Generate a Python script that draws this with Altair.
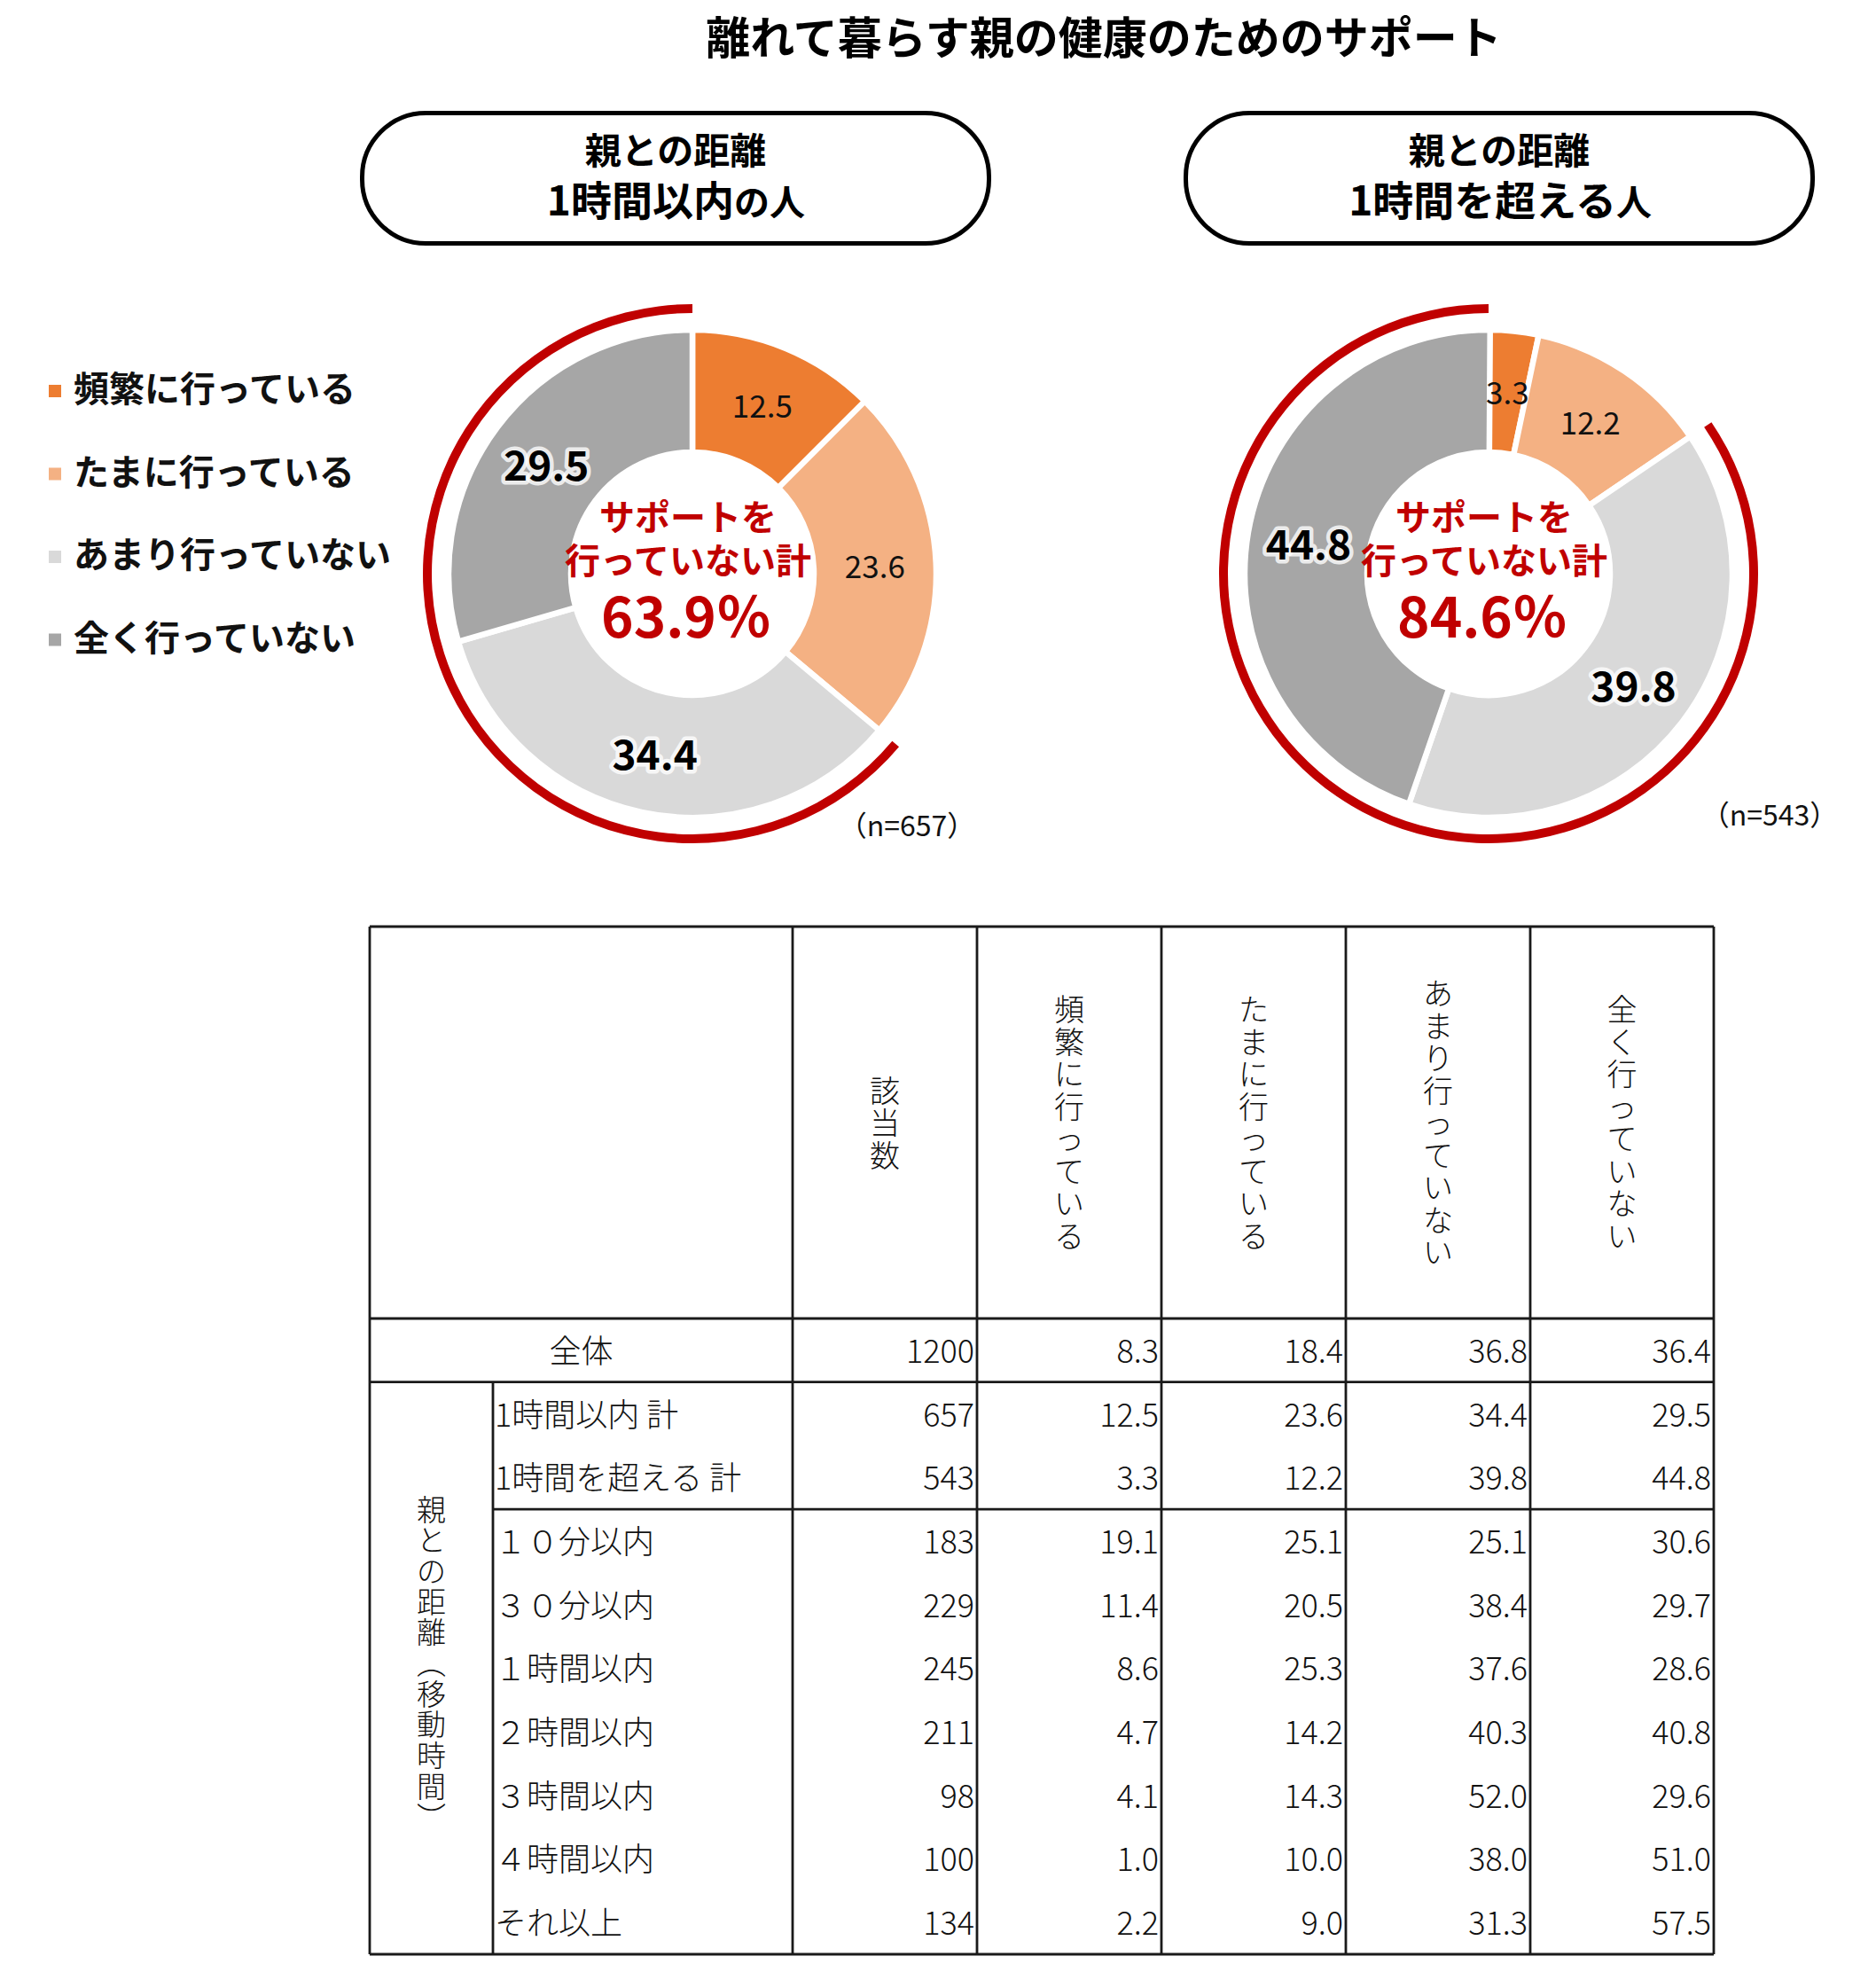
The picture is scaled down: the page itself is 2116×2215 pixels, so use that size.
import altair as alt
import pandas as pd

# ---------------- data ----------------
TITLE = "離れて暮らす親の健康のためのサポート"
categories = ["頻繁に行っている", "たまに行っている", "あまり行っていない", "全く行っていない"]
colors = ["#ED7D31", "#F4B183", "#D9D9D9", "#A6A6A6"]

near_title = ["親との距離", "1時間以内", "の人"]
far_title = ["親との距離", "1時間を超える", "人"]
near_values = [12.5, 23.6, 34.4, 29.5]
far_values = [3.3, 12.2, 39.8, 44.8]
center_lines = ["サポートを", "行っていない計"]
near_total = "63.9％"
far_total = "84.6％"
near_n = "（n=657）"
far_n = "（n=543）"

count_header = "該当数"
row_labels = ["全体", "1時間以内 計", "1時間を超える 計", "１０分以内", "３０分以内",
              "１時間以内", "２時間以内", "３時間以内", "４時間以内", "それ以上"]
counts = [1200, 657, 543, 183, 229, 245, 211, 98, 100, 134]
freq = [8.3, 12.5, 3.3, 19.1, 11.4, 8.6, 4.7, 4.1, 1.0, 2.2]
sometimes = [18.4, 23.6, 12.2, 25.1, 20.5, 25.3, 14.2, 14.3, 10.0, 9.0]
rarely = [36.8, 34.4, 39.8, 25.1, 38.4, 37.6, 40.3, 52.0, 38.0, 31.3]
never = [36.4, 29.5, 44.8, 30.6, 29.7, 28.6, 40.8, 29.6, 51.0, 57.5]
side_label = "親との距離（移動時間）"

# ---------------- layout ----------------
OFF = 8
W, H = 2100, 2199
JP = "Noto Sans CJK JP"
RED = "#C00000"

xs = alt.Scale(domain=[OFF, OFF + W], range=[0, W])
ys = alt.Scale(domain=[OFF, OFF + H], range=[0, H])
th = alt.Scale(domain=[0, 100])


def XY():
    return dict(x=alt.X("x:Q", scale=xs, axis=None), y=alt.Y("y:Q", scale=ys, axis=None))


def txt(xv, yv, t, **mk):
    df = pd.DataFrame({"x": [xv], "y": [yv], "t": [t]})
    return alt.Chart(df).mark_text(font=JP, **mk).encode(text="t:N", **XY())


def vtext(s):
    return "\n".join(list(s))


layers = []

# title
layers.append(txt(1245, 46, TITLE, fontSize=50, fontWeight="bold", color="#000", baseline="middle"))

# header boxes
boxes = pd.DataFrame({"x": [408.5, 1337.5], "x2": [1115.5, 2044.5], "y": [127.5, 127.5], "y2": [274.5, 274.5]})
layers.append(alt.Chart(boxes).mark_rect(cornerRadius=72, fill="white", stroke="black", strokeWidth=5).encode(
    x=alt.X("x:Q", scale=xs, axis=None), x2="x2:Q", y=alt.Y("y:Q", scale=ys, axis=None), y2="y2:Q"))

for cx, (l1, l2a, l2b), split in [(762, near_title, 828), (1691, far_title, 1823)]:
    layers.append(txt(cx, 173, l1, fontSize=41, fontWeight="bold", color="#000", baseline="middle"))
    layers.append(txt(split, 243, l2a, fontSize=46, fontWeight="bold", color="#000", align="right", baseline="alphabetic"))
    layers.append(txt(split, 243, l2b, fontSize=40, fontWeight="bold", color="#000", align="left", baseline="alphabetic"))

legend = alt.Legend(title=None, orient="none", legendX=34, legendY=413, symbolType="square",
                    symbolSize=196, symbolStrokeWidth=0, labelFont=JP, labelFontSize=40,
                    labelFontWeight="bold", labelColor="#111", rowPadding=53.5, labelOffset=1,
                    padding=0, labelLimit=600)


def donut(values, cx, cy, total, n_label, nx, ny):
    start, acc = [], 0.0
    for v in values:
        start.append(acc)
        acc += v
    df = pd.DataFrame({"cat": categories, "value": values, "idx": list(range(4)), "start": start,
                       "end": [s + v for s, v in zip(start, values)],
                       "mid": [s + v / 2 for s, v in zip(start, values)]})
    out = []
    out.append(alt.Chart(df).mark_arc(innerRadius=137, outerRadius=275, stroke="white", strokeWidth=6.5,
                                      x=cx - OFF, y=cy - OFF).encode(
        theta=alt.Theta("start:Q", scale=th), theta2="end:Q",
        color=alt.Color("cat:N", scale=alt.Scale(domain=categories, range=colors), legend=legend)))
    red = pd.DataFrame({"s": [values[0] + values[1]], "e": [100]})
    out.append(alt.Chart(red).mark_arc(innerRadius=294, outerRadius=304, color=RED,
                                       x=cx - OFF, y=cy - OFF).encode(
        theta=alt.Theta("s:Q", scale=th), theta2="e:Q"))
    thin = alt.Chart(df).transform_filter("datum.idx < 2").mark_text(
        radius=206, x=cx - OFF, y=cy - OFF, dy=3, font=JP, fontSize=35, color="#111", baseline="middle").encode(
        theta=alt.Theta("mid:Q", scale=th), text=alt.Text("value:Q", format=".1f"))
    halo = alt.Chart(df).transform_filter("datum.idx >= 2").mark_text(
        radius=206, x=cx - OFF, y=cy - OFF, dy=5, font=JP, fontSize=46, fontWeight="bold", color="white",
        stroke="white", strokeWidth=9, strokeOpacity=0.8, strokeJoin="round", baseline="middle").encode(
        theta=alt.Theta("mid:Q", scale=th), text=alt.Text("value:Q", format=".1f"))
    bold = alt.Chart(df).transform_filter("datum.idx >= 2").mark_text(
        radius=206, x=cx - OFF, y=cy - OFF, dy=5, font=JP, fontSize=46, fontWeight="bold", color="#000",
        baseline="middle").encode(
        theta=alt.Theta("mid:Q", scale=th), text=alt.Text("value:Q", format=".1f"))
    out += [thin, halo, bold]
    tx = cx - 5
    out.append(txt(tx, cy - 61, center_lines[0], fontSize=40, fontWeight="bold", color=RED, baseline="middle"))
    out.append(txt(tx, cy - 12, center_lines[1], fontSize=40, fontWeight="bold", color=RED, baseline="middle"))
    out.append(txt(tx - 2, cy + 53, total, fontSize=62, fontWeight="bold", color=RED, baseline="middle"))
    out.append(txt(nx, ny, n_label, fontSize=32, color="#111", baseline="middle"))
    return out


layers += donut(near_values, 781, 647, near_total, near_n, 1023, 933)
layers += donut(far_values, 1679, 647, far_total, far_n, 1996, 921)

# ---------------- table ----------------
T_TOP, H_BOT, ROW_H = 1045, 1487, 71.7
T_BOT = H_BOT + ROW_H * len(row_labels)
X_L, X_IN = 417, 556
col_edges = [894, 1102, 1310, 1518, 1726, 1933]
LINE = "#1a1a1a"
TXT = "#111"
TFS = 36

rules = []
for yv in [T_TOP, H_BOT, H_BOT + ROW_H, T_BOT]:
    rules.append((X_L, col_edges[-1], yv, yv))
rules.append((X_IN, col_edges[-1], H_BOT + 3 * ROW_H, H_BOT + 3 * ROW_H))
rules.append((X_L, X_L, T_TOP, T_BOT))
rules.append((X_IN, X_IN, H_BOT + ROW_H, T_BOT))
for xe in col_edges:
    rules.append((xe, xe, T_TOP, T_BOT))
rdf = pd.DataFrame(rules, columns=["x", "x2", "y", "y2"])
layers.append(alt.Chart(rdf).mark_rule(color=LINE, strokeWidth=2.8).encode(
    x=alt.X("x:Q", scale=xs, axis=None), x2="x2:Q", y=alt.Y("y:Q", scale=ys, axis=None), y2="y2:Q"))

# header (vertical text), block centred in the header cell
HLH = 36.5
headers = [count_header] + categories
hmid = (T_TOP + H_BOT) / 2 + 3
hdf = pd.DataFrame({"x": [(col_edges[i] + col_edges[i + 1]) / 2 for i in range(5)],
                    "y": [hmid - (len(h) - 1) * HLH / 2 for h in headers],
                    "t": [vtext(h) for h in headers]})
layers.append(alt.Chart(hdf).mark_text(font=JP, fontSize=34, fontWeight=300, lineBreak="\n", lineHeight=HLH,
                                       color=TXT, baseline="middle", align="center").encode(text="t:N", **XY()))

# side vertical label
SLH = 34.7
vert = side_label.replace("（", "︵").replace("）", "︶")
layers.append(txt((X_L + X_IN) / 2, 1878 - (len(vert) - 1) * SLH / 2, vtext(vert), fontSize=33, fontWeight=300,
                  lineBreak="\n", lineHeight=SLH, color=TXT, baseline="middle", align="center"))

# row labels
rl = pd.DataFrame({"x": [(X_L + col_edges[0]) / 2] + [X_IN + 2] * (len(row_labels) - 1),
                   "y": [H_BOT + (i + 0.5) * ROW_H + 3 for i in range(len(row_labels))],
                   "t": row_labels,
                   "first": [1] + [0] * (len(row_labels) - 1)})
layers.append(alt.Chart(rl).transform_filter("datum.first == 1").mark_text(
    font=JP, fontSize=TFS, fontWeight=300, color=TXT, baseline="middle", align="center").encode(text="t:N", **XY()))
layers.append(alt.Chart(rl).transform_filter("datum.first == 0").mark_text(
    font=JP, fontSize=TFS, fontWeight=300, color=TXT, baseline="middle", align="left").encode(text="t:N", **XY()))

# numbers
cells = []
for r in range(len(row_labels)):
    yv = H_BOT + (r + 0.5) * ROW_H + 3
    for c, series in enumerate([counts, freq, sometimes, rarely, never]):
        v = series[r]
        cells.append((col_edges[c + 1] - 3, yv, str(v) if c == 0 else f"{v:.1f}"))
ndf = pd.DataFrame(cells, columns=["x", "y", "t"])
layers.append(alt.Chart(ndf).mark_text(font=JP, fontSize=TFS, fontWeight=300, color=TXT, baseline="middle",
                                       align="right").encode(text="t:N", **XY()))

chart = alt.LayerChart(layer=layers).properties(
    width=W, height=H, padding=0, autosize=alt.AutoSizeParams(type="none"), background="white"
).configure_view(stroke=None)

chart.save("out.html", embed_options={"renderer": "svg", "actions": False})
